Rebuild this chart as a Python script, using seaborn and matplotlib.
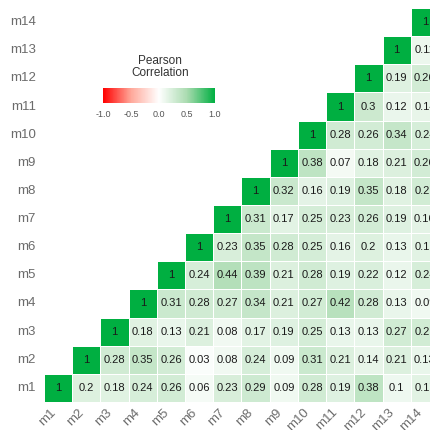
import numpy as np
import pandas as pd
import matplotlib
matplotlib.use("Agg")
import matplotlib.pyplot as plt
import seaborn as sns
from matplotlib.colors import LinearSegmentedColormap

labels = ["m1", "m2", "m3", "m4", "m5", "m6", "m7", "m8", "m9", "m10", "m11", "m12", "m13", "m14"]

# upper triangle, row mi from column mi onwards
upper_rows = [
    [1, 0.2, 0.18, 0.24, 0.26, 0.06, 0.23, 0.29, 0.09, 0.28, 0.19, 0.38, 0.1, 0.17],
    [1, 0.28, 0.35, 0.26, 0.03, 0.08, 0.24, 0.09, 0.31, 0.21, 0.14, 0.21, 0.13],
    [1, 0.18, 0.13, 0.21, 0.08, 0.17, 0.19, 0.25, 0.13, 0.13, 0.27, 0.27],
    [1, 0.31, 0.28, 0.27, 0.34, 0.21, 0.27, 0.42, 0.28, 0.13, 0.09],
    [1, 0.24, 0.44, 0.39, 0.21, 0.28, 0.19, 0.22, 0.12, 0.24],
    [1, 0.23, 0.35, 0.28, 0.25, 0.16, 0.2, 0.13, 0.17],
    [1, 0.31, 0.17, 0.25, 0.23, 0.26, 0.19, 0.16],
    [1, 0.32, 0.16, 0.19, 0.35, 0.18, 0.27],
    [1, 0.38, 0.07, 0.18, 0.21, 0.26],
    [1, 0.28, 0.26, 0.34, 0.24],
    [1, 0.3, 0.12, 0.14],
    [1, 0.19, 0.26],
    [1, 0.11],
    [1],
]

n = len(labels)
mat = np.full((n, n), np.nan)
for i, row in enumerate(upper_rows):
    for k, v in enumerate(row):
        mat[i, i + k] = v
        mat[i + k, i] = v

df = pd.DataFrame(mat, index=labels, columns=labels)
df = df.iloc[::-1]  # m14 on top

rows_idx = np.array([labels.index(r) for r in df.index])[:, None]
cols_idx = np.arange(n)[None, :]
mask = cols_idx < rows_idx

annot = df.apply(lambda s: s.map(lambda v: f"{v:.2f}".rstrip("0").rstrip("."))).values

cmap = LinearSegmentedColormap.from_list(
    "rwg",
    [(0.0, "#FF0000"), (0.25, "#FFA89A"), (0.5, "#FFFFFF"), (0.75, "#AADBB0"), (1.0, "#00AF41")])

sns.set_theme(style="white")
plt.rcParams["font.family"] = ["Liberation Sans", "DejaVu Sans"]
fig = plt.figure(figsize=(4.31, 4.30), dpi=100)
ax = fig.add_axes([44 / 431, 1 - 402 / 430, 395 / 431, 394 / 430])
cax = fig.add_axes([103 / 431, 1 - 103 / 430, 112 / 431, 15 / 430])

sns.heatmap(df, mask=mask, cmap=cmap, vmin=-1, vmax=1, annot=annot, fmt="",
            annot_kws={"size": 8, "color": "#1a1a1a"}, linewidths=0.6, linecolor="white",
            square=False, ax=ax, cbar_ax=cax,
            cbar_kws={"orientation": "horizontal", "ticks": [-1, -0.5, 0, 0.5, 1]})

ax.tick_params(length=0, labelsize=9.5, labelcolor="#6b6b6b")
ax.tick_params(axis="y", pad=6)
ax.tick_params(axis="x", pad=3)
plt.setp(ax.get_yticklabels(), rotation=0)
plt.setp(ax.get_xticklabels(), rotation=45, ha="right")
ax.set_xlabel("")
ax.set_ylabel("")

cax.set_xticklabels(["-1.0", "-0.5", "0.0", "0.5", "1.0"])
cax.tick_params(axis="x", direction="in", length=3, color="white", labelsize=6.5,
                labelcolor="#555555", pad=5, top=True)
for s in cax.spines.values():
    s.set_visible(False)
fig.text(160 / 431, 1 - 55 / 430, "Pearson\nCorrelation", ha="center", va="top",
         fontsize=8.5, color="#333333", linespacing=1.0)

fig.savefig("out.png", dpi=100)
